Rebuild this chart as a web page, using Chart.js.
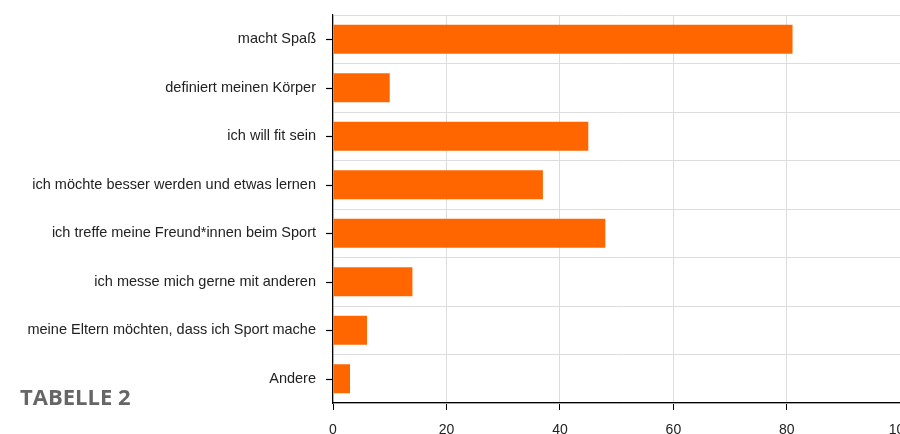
<!DOCTYPE html>
<html>
<head>
<meta charset="utf-8">
<script src="https://cdn.jsdelivr.net/npm/chart.js@4"></script>
<style>
  html, body { margin: 0; padding: 0; background: #fff; overflow: hidden; width: 900px; height: 434px; }
  #wrap { position: absolute; left: 0; top: 0; width: 924px; height: 434px; }
  #title { position: absolute; left: 20px; top: 381px; font-family: "Open Sans", sans-serif; font-weight: bold; font-size: 22px; color: #666; }
</style>
</head>
<body>
<div id="wrap"><canvas id="chart"></canvas></div>
<div id="title">TABELLE 2</div>
<script>
const categories = [
  "macht Spaß",
  "definiert meinen Körper",
  "ich will fit sein",
  "ich möchte besser werden und etwas lernen",
  "ich treffe meine Freund*innen beim Sport",
  "ich messe mich gerne mit anderen",
  "meine Eltern möchten, dass ich Sport mache",
  "Andere"
];
const values = [81, 10, 45, 37, 48, 14, 6, 3];
const xTicks = [0, 20, 40, 60, 80, 100];

// tick marks at the category centres (grid lines stay between categories)
const centerTicks = {
  id: 'centerTicks',
  afterDraw(chart) {
    const y = chart.scales.y;
    const ctx = chart.ctx;
    ctx.save();
    ctx.strokeStyle = '#000';
    ctx.lineWidth = 1.2;
    y.ticks.forEach((t, i) => {
      const py = Math.round(y.getPixelForTick(i)) + 0.5;
      ctx.beginPath();
      ctx.moveTo(y.right - 7, py);
      ctx.lineTo(y.right, py);
      ctx.stroke();
    });
    ctx.restore();
  }
};

new Chart(document.getElementById("chart"), {
  type: 'bar',
  data: {
    labels: categories,
    datasets: [{
      data: values,
      backgroundColor: '#ff6600',
      borderWidth: 0,
      categoryPercentage: 1,
      barPercentage: 0.6
    }]
  },
  options: {
    indexAxis: 'y',
    responsive: true,
    maintainAspectRatio: false,
    animation: false,
    layout: { padding: { top: 15, left: 0, right: 0, bottom: 0 } },
    plugins: { legend: { display: false }, tooltip: { enabled: false } },
    scales: {
      x: {
        min: 0,
        max: 100,
        afterBuildTicks: s => { s.ticks = xTicks.map(v => ({ value: v })); },
        afterFit: s => { s.height = 31; },
        border: { color: '#000', width: 1.2 },
        grid: { color: '#dddddd', tickColor: '#000', tickLength: 7 },
        ticks: { color: '#222', font: { family: 'Liberation Sans', size: 14 }, padding: 12 }
      },
      y: {
        afterFit: s => { s.width = 333; s.paddingTop = 0; s.paddingBottom = 0; },
        border: { color: '#000', width: 1.2 },
        grid: { color: '#dddddd', tickColor: 'rgba(0,0,0,0)', tickLength: 7, offset: true },
        ticks: { color: '#222', font: { family: 'Liberation Sans', size: 14.5 }, padding: 10 }
      }
    }
  },
  plugins: [centerTicks]
});
</script>
</body>
</html>
